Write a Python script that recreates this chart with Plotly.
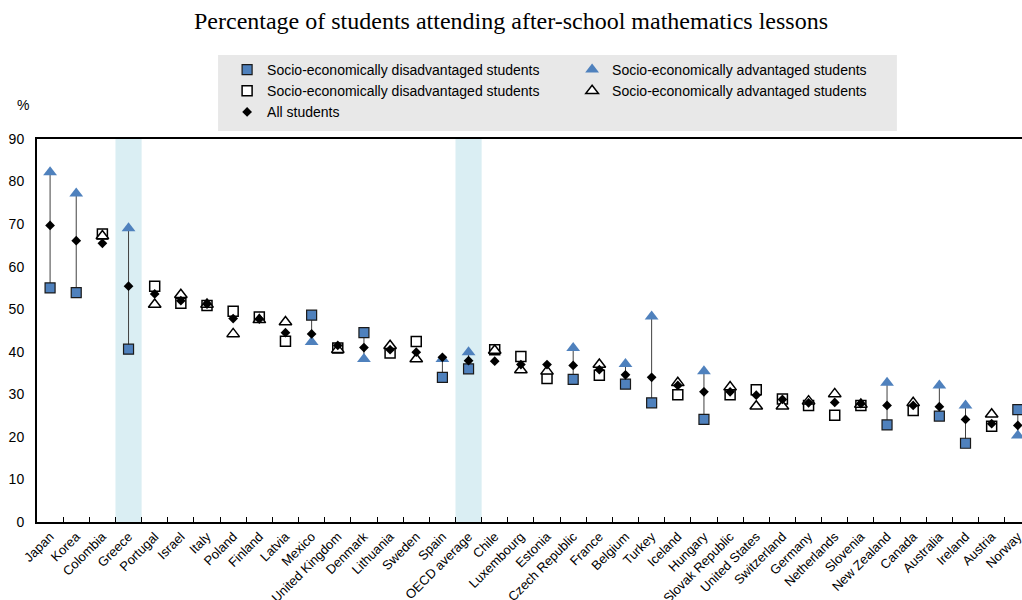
import plotly.graph_objects as go

countries = ["Japan", "Korea", "Colombia", "Greece", "Portugal", "Israel", "Italy", "Poland",
             "Finland", "Latvia", "Mexico", "United Kingdom", "Denmark", "Lithuania", "Sweden",
             "Spain", "OECD average", "Chile", "Luxembourg", "Estonia", "Czech Republic", "France",
             "Belgium", "Turkey", "Iceland", "Hungary", "Slovak Republic", "United States",
             "Switzerland", "Germany", "Netherlands", "Slovenia", "New Zealand", "Canada",
             "Australia", "Ireland", "Austria", "Norway"]
disadvantaged = [55.0, 53.9, 67.7, 40.6, 55.4, 51.4, 50.9, 49.5, 48.2, 42.5, 48.6, 40.9, 44.5,
                 39.7, 42.4, 34.0, 36.0, 40.5, 38.9, 33.7, 33.5, 34.5, 32.4, 28.0, 29.9, 24.1,
                 29.9, 31.1, 28.9, 27.4, 25.1, 27.4, 22.8, 26.2, 24.9, 18.5, 22.5, 26.4]
advantaged = [82.2, 77.2, 67.2, 69.0, 51.1, 53.4, 51.1, 44.2, 47.5, 47.0, 42.3, 40.5, 38.3,
              41.4, 38.3, 38.3, 39.9, 40.3, 35.7, 35.4, 40.9, 37.0, 37.1, 48.3, 32.7, 35.4,
              31.7, 27.2, 27.2, 28.4, 30.1, 27.6, 32.7, 28.0, 32.1, 27.4, 25.3, 20.3]
all_students = [69.7, 66.1, 65.5, 55.4, 53.6, 52.0, 51.2, 47.8, 47.7, 44.5, 44.2, 41.5, 41.0,
                40.5, 39.9, 38.7, 37.9, 37.8, 37.0, 37.0, 36.8, 35.8, 34.6, 34.0, 32.1, 30.6,
                30.6, 29.8, 28.8, 28.0, 28.1, 27.8, 27.4, 27.4, 27.1, 24.1, 23.1, 22.7]
significant = [True, True, False, True, False, False, False, False, False, False, True, False,
               True, False, False, True, True, False, False, False, True, False, True, True,
               False, True, False, False, False, False, False, False, True, False, True, True,
               False, True]
highlighted = ["Greece", "OECD average"]

legend_dis = "Socio-economically disadvantaged students"
legend_adv = "Socio-economically advantaged students"

BLUE = "#4f81bd"
SANS = "Liberation Sans, Arial, sans-serif"

fig = go.Figure()

# connecting lines for significant differences
lx, ly = [], []
for c, d, a, s in zip(countries, disadvantaged, advantaged, significant):
    if s:
        lx += [c, c, None]
        ly += [d, a, None]
fig.add_trace(go.Scatter(x=lx, y=ly, mode="lines", line=dict(color="#404040", width=1),
                         showlegend=False, hoverinfo="skip"))

sx = [c for c, s in zip(countries, significant) if s]
nx = [c for c, s in zip(countries, significant) if not s]
sd = [v for v, s in zip(disadvantaged, significant) if s]
sa = [v for v, s in zip(advantaged, significant) if s]
nd = [v for v, s in zip(disadvantaged, significant) if not s]
na = [v for v, s in zip(advantaged, significant) if not s]

fig.add_trace(go.Scatter(x=sx, y=sd, mode="markers", name=legend_dis,
                         marker=dict(symbol="square", size=10, color=BLUE,
                                     line=dict(color="#1a1a1a", width=1.2))))
fig.add_trace(go.Scatter(x=sx, y=sa, mode="markers", name=legend_adv,
                         marker=dict(symbol="triangle-up", size=12, color=BLUE,
                                     line=dict(width=0))))
fig.add_trace(go.Scatter(x=nx, y=nd, mode="markers", name=legend_dis,
                         marker=dict(symbol="square", size=10, color="white",
                                     line=dict(color="black", width=1.5))))
fig.add_trace(go.Scatter(x=nx, y=na, mode="markers", name=legend_adv,
                         marker=dict(symbol="triangle-up", size=11, color="white",
                                     line=dict(color="black", width=1.5))))
fig.add_trace(go.Scatter(x=countries, y=all_students, mode="markers", name="All students",
                         marker=dict(symbol="diamond", size=7.5, color="black",
                                     line=dict(width=0))))

shapes = []
for h in highlighted:
    i = countries.index(h)
    shapes.append(dict(type="rect", xref="x", yref="paper", x0=i - 0.5, x1=i + 0.5,
                       y0=0, y1=1, fillcolor="#daeef3", line=dict(width=0), layer="below"))
# legend background
shapes.append(dict(type="rect", xref="paper", yref="paper", x0=0.1838, x1=0.873,
                   y0=1.021, y1=1.219, fillcolor="#e8e8e8", line=dict(width=0), layer="below"))

fig.update_layout(
    width=1022, height=600,
    margin=dict(l=37, r=0, t=139, b=78),
    paper_bgcolor="white", plot_bgcolor="white",
    title=dict(text="Percentage of students attending after-school mathematics lessons",
               x=0.5, xref="container", y=1 - 21 / 600, yanchor="middle",
               font=dict(family="Liberation Serif, Times New Roman, serif", size=24, color="black")),
    shapes=shapes,
    showlegend=True,
    legend=dict(orientation="h", x=0.193, y=1.222, xanchor="left", yanchor="top",
                bgcolor="rgba(0,0,0,0)", entrywidth=300, entrywidthmode="pixels",
                traceorder="normal", itemwidth=30,
                font=dict(family=SANS, size=14, color="black")),
    annotations=[dict(text="%", xref="paper", yref="paper", x=-0.0223, y=1.115,
                      showarrow=False, font=dict(family=SANS, size=14, color="black"))],
    xaxis=dict(type="category", categoryorder="array", categoryarray=countries,
               range=[-0.5, 37.16], showline=True, linecolor="black", linewidth=2, mirror=True,
               ticks="inside", tickson="boundaries", ticklen=5, tickcolor="black", tickwidth=1,
               tickangle=-45, showgrid=False, automargin=False,
               tickfont=dict(family=SANS, size=13, color="black")),
    yaxis=dict(range=[0, 90], dtick=10, showline=True, linecolor="black", linewidth=2,
               ticks="", showgrid=False, zeroline=False, automargin=False, ticklabelstandoff=8,
               tickfont=dict(family=SANS, size=14, color="black")),
)

fig.write_html("out.html", config={"displayModeBar": False},
               post_script="document.body.style.margin='0';document.body.style.overflow='hidden';")
